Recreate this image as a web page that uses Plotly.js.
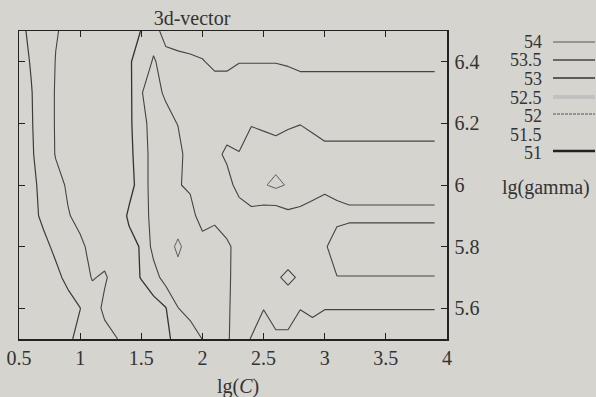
<!DOCTYPE html>
<html>
<head>
<meta charset="utf-8">
<script src="https://cdn.plot.ly/plotly-3.0.1.min.js"></script>
<style>
html,body{margin:0;padding:0;background:#d5d4cf;}
#chart{width:596px;height:397px;}
</style>
</head>
<body>
<div id="chart"></div>
<script>
// ---- data ----
const lgC = [0.5,0.6,0.7,0.8,0.9,1.0,1.1,1.2,1.3,1.4,1.5,1.6,1.7,1.8,1.9,2.0,2.1,2.2,2.3,2.4,2.5,2.6,2.7,2.8,2.9,3.0,3.1,3.2,3.9];
const lgGamma = [5.5,5.6,5.7,5.8,5.9,6.0,6.1,6.2,6.3,6.4,6.5];
// accuracy values, one row per lg(gamma)
const acc55 = [49.78,50.06,50.33,50.61,50.89,51.17,51.44,51.72,51.99,52.23,52.45,52.68,52.91,53.14,53.2,53.51,53.6,53.545,53.32,53.52,53.7,53.6,53.564,53.7,53.7,53.7,53.7,53.7,53.7];
const acc56 = [49.5,49.8,50.1,50.4,50.7,50.99,51.6,52.17,52.24,52.43,52.61,52.8,52.98,53.49,53.7,53.52,53.7,53.6,53.2,53.3,53.49,53.27,53.35,53.49,53.414,53.49,53.49,53.49,53.49];
const acc57 = [49.65,50.04,50.42,50.81,51.19,51.6,52.05,51.9,52.35,52.76,53.03,53.3,53.7,53.8,53.8,53.7,53.7,53.6,53.27,53.3,53.35,53.467,53.55,53.467,53.35,53.45,53.49,53.49,53.49];
const acc58 = [50.07,50.44,50.8,51.16,51.51,51.89,52.16,52.38,52.6,52.8,53.05,53.65,53.75,54.1,53.75,53.65,53.73,53.55,53.4,53.35,53.35,53.35,53.35,53.35,53.35,53.45,53.7,53.7,53.7];
const acc59 = [50.36,50.76,51.16,51.56,51.96,52.16,52.34,52.52,52.6,53.1,53.2,53.7,53.7,53.7,53.62,53.35,53.4,53.35,53.2,53.414,53.252,53.2,53.385,53.436,53.35,53.24,53.39,53.44,53.44];
const acc60 = [50.29,50.78,51.27,51.78,52.08,52.25,52.41,52.57,52.74,52.8,53.256,53.7,53.7,53.52,53.45,53.3,53.3,53.3,53.7,53.7,53.96,54.1,53.96,53.65,53.65,53.61,53.61,53.61,53.61];
const acc61 = [50.23,50.87,51.52,52.04,52.19,52.34,52.49,52.64,52.74,52.88,53.256,53.7,53.7,53.7,53.2,53.3,53.35,53.6,53.52,53.7,53.7,53.8,53.7,53.7,53.7,53.61,53.61,53.61,53.61];
const acc62 = [50.27,50.92,51.58,52.05,52.2,52.35,52.5,52.65,52.8,52.9,53.336,53.7,53.7,53.48,53.3,53.3,53.3,53.267,53.3,53.478,53.433,53.3,53.45,53.49,53.41,53.35,53.35,53.35,53.35];
const acc63 = [50.31,50.95,51.59,52.05,52.2,52.35,52.5,52.62,52.75,52.87,53.478,53.7,53.414,53.3,53.3,53.3,53.34,53.34,53.3,53.3,53.3,53.3,53.3,53.35,53.35,53.35,53.35,53.35,53.35];
const acc64 = [50.57,51.07,51.57,52.02,52.18,52.33,52.49,52.64,52.8,52.95,53.2,53.55,53.3,53.39,53.433,53.478,53.57,53.57,53.51,53.51,53.51,53.51,53.535,53.57,53.57,53.57,53.57,53.57,53.57];
const acc65 = [50.775,51.17,51.565,51.96,52.13,52.275,52.42,52.565,52.71,52.855,53.01,53.3,53.7,53.7,53.7,53.7,53.7,53.7,53.7,53.7,53.7,53.7,53.7,53.7,53.7,53.7,53.7,53.7,53.7];

const legendLevels = [54, 53.5, 53, 52.5, 52, 51.5, 51];
const legendLabels = ['54','53.5','53','52.5','52','51.5','51'];
const drawnLevels = [51, 52, 53, 53.5, 54];
const xTickVals = [0.5,1,1.5,2,2.5,3,3.5,4];
const xTickText = ['0.5','1','1.5','2','2.5','3','3.5','4'];
const yTickVals = [5.6,5.8,6,6.2,6.4];
const yTickText = ['5.6','5.8','6','6.2','6.4'];

const z = [acc55,acc56,acc57,acc58,acc59,acc60,acc61,acc62,acc63,acc64,acc65];

// ---- styling ----
const BG = '#d5d4cf';
const INK = '#333';
const FONT = 'Liberation Serif, Times New Roman, serif';
const lineStyle = {
  51:   {color:'#3c3c3c', width:1.2},
  52:   {color:'#444', width:1.1},
  53:   {color:'#333', width:1.3},
  53.5: {color:'#444', width:1.1},
  54:   {color:'#555', width:1.0}
};
const legendStyle = {
  54:   {color:'#555', width:1},
  53.5: {color:'#444', width:1.5},
  53:   {color:'#333', width:1.7},
  52.5: {color:'rgba(170,170,170,0.45)', width:4},
  52:   {color:'#555', width:1, dash:'3px,1px'},
  51.5: null,
  51:   {color:'#222', width:2.6}
};

const W = 596, H = 397;
const M = {l:19, r:149, t:31, b:58};
const PW = W - M.l - M.r, PH = H - M.t - M.b;
const px2x = p => (p - M.l) / PW;
const py2y = p => (H - M.b - p) / PH;

const traces = drawnLevels.map(lv => ({
  type: 'contour',
  x: lgC, y: lgGamma, z: z,
  autocontour: false,
  contours: {start: lv, end: lv + 0.001, size: 0.5, coloring: 'none'},
  line: {color: lineStyle[lv].color, width: lineStyle[lv].width, smoothing: 0},
  showscale: false, showlegend: false, hoverinfo: 'skip'
}));

const legendTextY = [42, 60.5, 79, 97.5, 116, 134.5, 153];
const legendLineY = [42, 60, 78, 97, 114, 133, 151];
const annotations = [];
const shapes = [];
legendLevels.forEach((lv, i) => {
  annotations.push({
    xref:'paper', yref:'paper', x:px2x(544), y:py2y(legendTextY[i]),
    xanchor:'right', yanchor:'middle', showarrow:false,
    text: legendLabels[i], font:{family:FONT, size:18, color:INK}
  });
  const st = legendStyle[lv];
  if (st) {
    shapes.push({type:'line', xref:'paper', yref:'paper',
      x0:px2x(553), x1:px2x(595), y0:py2y(legendLineY[i]), y1:py2y(legendLineY[i]),
      line: st});
  }
});
annotations.push({xref:'paper', yref:'paper', x:px2x(546), y:py2y(187),
  xanchor:'center', yanchor:'middle', showarrow:false,
  text:'lg(gamma)', font:{family:FONT, size:20, color:INK}});
annotations.push({xref:'paper', yref:'paper', x:px2x(238), y:py2y(386),
  xanchor:'center', yanchor:'middle', showarrow:false,
  text:'lg(<i>C</i>)', font:{family:FONT, size:20, color:INK}});

const axisCommon = {
  ticks:'inside', ticklen:6, tickwidth:1, tickcolor:'#222',
  showline:true, linecolor:'#222', linewidth:1.5, mirror:'ticks',
  showgrid:false, zeroline:false,
  tickfont:{family:FONT, size:20, color:INK}
};

const layout = {
  width: W, height: H, margin: M,
  paper_bgcolor: BG, plot_bgcolor: BG,
  title: {text:'3d-vector', x:192/W, xref:'container', xanchor:'center',
          y:1 - 17.5/H, yref:'container', yanchor:'middle',
          font:{family:FONT, size:20, color:INK}},
  xaxis: Object.assign({}, axisCommon, {range:[0.5,4], tickvals:xTickVals, ticktext:xTickText, ticklabelstandoff:0}),
  yaxis: Object.assign({}, axisCommon, {range:[5.5,6.5], side:'right', tickvals:yTickVals, ticktext:yTickText, ticklabelstandoff:2}),
  annotations: annotations,
  shapes: shapes,
  showlegend: false
};

Plotly.newPlot('chart', traces, layout, {staticPlot:true});
</script>
</body>
</html>
